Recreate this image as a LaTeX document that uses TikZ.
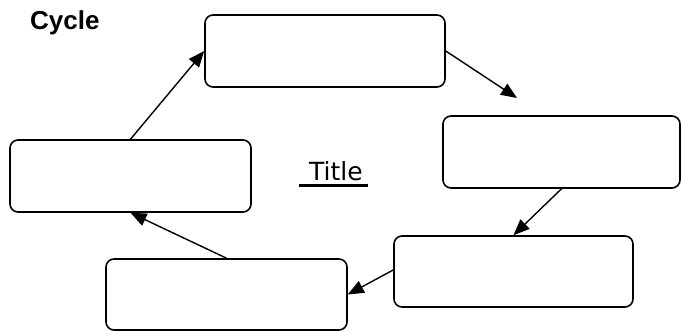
\documentclass[tikz,border=0pt]{standalone}
\usepackage{fontspec}
\setmainfont{Liberation Sans}
\newfontfamily\titlefont{DejaVu Sans}
\usetikzlibrary{arrows.meta}
\begin{document}
\begin{tikzpicture}[x=1pt,y=-1pt,
  stage/.style={draw=black, line width=1.6pt, rounded corners=8pt,
    minimum width=240pt, minimum height=72pt, inner sep=0pt, fill=white},
  flow/.style={line width=1.4pt, -{Triangle[length=16pt,width=13pt]}}]
  \useasboundingbox (0,0) rectangle (682,331);

  % heading and centre title
  \node[font=\bfseries\fontsize{26}{30}\selectfont, anchor=base west, inner sep=0pt] (heading) at (30,30) {Cycle};
  \node[font=\titlefont\fontsize{25}{29}\selectfont, anchor=base west, inner sep=0pt] (title) at (309,180) {Title};
  \coordinate (ulA) at (299,185.5);
  \coordinate (ulB) at (368,185.5);
  \draw[line width=2.8pt] (ulA) -- (ulB);

  % the five stages of the cycle
  \node[stage] (s1) at (325,51) {};
  \node[stage, minimum width=237pt] (s2) at (561.5,152) {};
  \node[stage, minimum width=239pt, minimum height=71pt] (s3) at (513.5,271.5) {};
  \node[stage, minimum width=241pt, minimum height=71pt] (s4) at (226.5,294.5) {};
  \node[stage, minimum width=241pt] (s5) at (130.5,176) {};

  % connectors
  \coordinate (gap) at (517,98);
  \draw[flow] (s1.east) -- (gap);
  \draw[flow] (s2.south) -- (s3.north);
  \draw[flow] ([yshift=1.5pt]s3.west) -- (s4.east);
  \draw[flow] (s4.north) -- (s5.south);
  \draw[flow] (s5.north) -- (s1.west);
\end{tikzpicture}
\end{document}
